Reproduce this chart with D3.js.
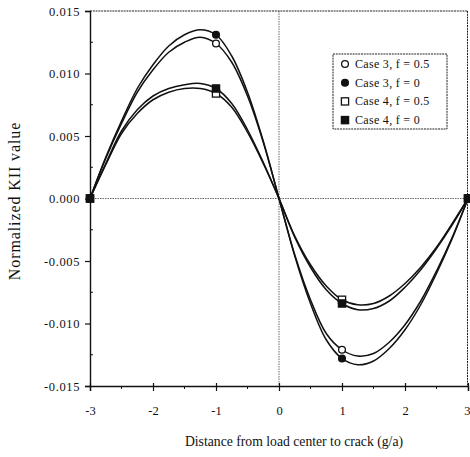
<!DOCTYPE html>
<html>
<head>
<meta charset="utf-8">
<script src="https://cdn.jsdelivr.net/npm/d3@7"></script>
<style>
  body { margin: 0; background: #fff; }
  text { font-family: "Liberation Serif", "DejaVu Serif", serif; fill: #111; }
</style>
</head>
<body>
<svg id="chart" width="470" height="457"></svg>
<script>
// distance from load center (g/a) where the curves were read
var xValues = [-3, -2.75, -2.5, -2.25, -2, -1.75, -1.5, -1.25, -1, -0.75, -0.5, -0.25, 0,
               0.25, 0.5, 0.75, 1, 1.25, 1.5, 1.75, 2, 2.25, 2.5, 2.75, 3];

var case3f05 = [0, 0.0032, 0.0060, 0.0085, 0.0103, 0.0117, 0.0125, 0.0129, 0.0124, 0.0109, 0.0082, 0.0045, 0,
                -0.0045, -0.0081, -0.0108, -0.0121, -0.0126, -0.0124, -0.0115, -0.0101, -0.0082, -0.0058, -0.0031, 0];
var case3f0 = [0, 0.0033, 0.0062, 0.0088, 0.0107, 0.0122, 0.0131, 0.0135, 0.0131, 0.0114, 0.0085, 0.0046, 0,
               -0.0046, -0.0084, -0.0113, -0.0128, -0.0133, -0.0130, -0.0120, -0.0105, -0.0085, -0.0060, -0.0032, 0];
var case4f05 = [0, 0.0027, 0.0052, 0.0068, 0.0079, 0.0085, 0.0088, 0.0088, 0.0084, 0.0073, 0.0053, 0.0028, 0,
                -0.0030, -0.0053, -0.0070, -0.0081, -0.0085, -0.0084, -0.0078, -0.0068, -0.0055, -0.0039, -0.0020, 0];
var case4f0 = [0, 0.0028, 0.0054, 0.0071, 0.0082, 0.0088, 0.0091, 0.0092, 0.0088, 0.0076, 0.0055, 0.0029, 0,
               -0.0031, -0.0055, -0.0073, -0.0084, -0.0089, -0.0088, -0.0082, -0.0071, -0.0057, -0.0040, -0.0021, 0];

// markers only sit on these x positions
var markerX = [-3, -1, 1, 3];

var seriesNames = ["Case 3, f = 0.5", "Case 3, f = 0", "Case 4, f = 0.5", "Case 4, f = 0"];
var seriesShapes = ["openCircle", "fillCircle", "openSquare", "fillSquare"];

var xTicks = [-3, -2, -1, 0, 1, 2, 3];
var xMinorTicks = [-2.5, -1.5, -0.5, 0.5, 1.5, 2.5];
var yTicks = [-0.015, -0.010, -0.005, 0, 0.005, 0.010, 0.015];
var yMinorTicks = [-0.0125, -0.0075, -0.0025, 0.0025, 0.0075, 0.0125];

var xLabel = "Distance from load center to crack (g/a)";
var yLabel = "Normalized KII value";

var plotLeft = 90, plotRight = 468, plotTop = 11, plotBottom = 386;

var svg = d3.select("#chart");

var xScale = d3.scaleLinear().domain([-3, 3]).range([plotLeft, plotRight]);
var yScale = d3.scaleLinear().domain([-0.015, 0.015]).range([plotBottom, plotTop]);

// zero lines (dotted)
svg.append("line")
    .attr("x1", plotLeft).attr("x2", plotRight)
    .attr("y1", yScale(0)).attr("y2", yScale(0))
    .attr("stroke", "#444").attr("stroke-width", 0.8)
    .attr("stroke-dasharray", "1.5,1");
svg.append("line")
    .attr("x1", xScale(0)).attr("x2", xScale(0))
    .attr("y1", plotTop).attr("y2", plotBottom)
    .attr("stroke", "#444").attr("stroke-width", 0.8)
    .attr("stroke-dasharray", "1.5,1");

// frame top / right
svg.append("line")
    .attr("x1", plotLeft).attr("x2", plotRight).attr("y1", plotTop).attr("y2", plotTop)
    .attr("stroke", "#222").attr("stroke-width", 1).attr("stroke-dasharray", "2,0.8");
svg.append("line")
    .attr("x1", plotRight - 0.5).attr("x2", plotRight - 0.5).attr("y1", plotTop).attr("y2", plotBottom)
    .attr("stroke", "#222").attr("stroke-width", 1).attr("stroke-dasharray", "2,0.8");

// left axis
var yAxis = d3.axisLeft(yScale)
    .tickValues(yTicks)
    .tickSize(5)
    .tickPadding(5)
    .tickFormat(function(d) { return d3.format(".3f")(d).replace("\u2212", "-"); });

var gy = svg.append("g")
    .attr("transform", "translate(" + plotLeft + ",0)")
    .call(yAxis)
    .attr("font-family", "Liberation Serif");
gy.select(".domain").attr("stroke", "#111").attr("stroke-width", 1.4);
gy.selectAll(".tick line").attr("stroke", "#111").attr("stroke-width", 1.2);
gy.selectAll(".tick text")
    .style("font-size", "12.5px")
    .style("letter-spacing", "0.6px");

gy.selectAll(".minor").data(yMinorTicks).enter().append("line")
    .attr("class", "minor")
    .attr("x1", 0).attr("x2", 3)
    .attr("y1", function(d) { return yScale(d); })
    .attr("y2", function(d) { return yScale(d); })
    .attr("stroke", "#111").attr("stroke-width", 1);

// bottom axis
var xAxis = d3.axisBottom(xScale)
    .tickValues(xTicks)
    .tickSize(5)
    .tickPadding(15)
    .tickFormat(function(d) { return String(d); });

var gx = svg.append("g")
    .attr("transform", "translate(0," + plotBottom + ")")
    .call(xAxis)
    .attr("font-family", "Liberation Serif");
gx.select(".domain").attr("stroke", "#111").attr("stroke-width", 1.4);
gx.selectAll(".tick line").attr("stroke", "#111").attr("stroke-width", 1.2).attr("y1", -3);
gx.selectAll(".tick text")
    .style("font-size", "12.5px");
// last label sits at the window edge, keep it inside
gx.selectAll(".tick text")
    .filter(function(d) { return d === 3; })
    .attr("text-anchor", "end")
    .attr("x", 2);

gx.selectAll(".minor").data(xMinorTicks).enter().append("line")
    .attr("class", "minor")
    .attr("x1", function(d) { return xScale(d); })
    .attr("x2", function(d) { return xScale(d); })
    .attr("y1", 0).attr("y2", 3)
    .attr("stroke", "#111").attr("stroke-width", 1);

// axis titles
svg.append("text")
    .attr("x", 294).attr("y", 446)
    .attr("text-anchor", "middle")
    .style("font-size", "13.7px")
    .text(xLabel);

svg.append("text")
    .attr("transform", "translate(20,201) rotate(-90)")
    .attr("text-anchor", "middle")
    .style("font-size", "16px")
    .style("letter-spacing", "0.9px")
    .text(yLabel);

// curves
var allSeries = [case3f05, case3f0, case4f05, case4f0];

var line = d3.line()
    .x(function(d) { return xScale(d[0]); })
    .y(function(d) { return yScale(d[1]); })
    .curve(d3.curveCatmullRom.alpha(0.5));

allSeries.forEach(function(vals) {
    var pts = xValues.map(function(x, i) { return [x, vals[i]]; });
    svg.append("path")
        .datum(pts)
        .attr("d", line)
        .attr("fill", "none")
        .attr("stroke", "#111")
        .attr("stroke-width", 1.5);
});

// markers
function drawMarker(g, shape, cx, cy) {
    if (shape === "openCircle" || shape === "fillCircle") {
        g.append("circle")
            .attr("cx", cx).attr("cy", cy).attr("r", 3.4)
            .attr("fill", shape === "fillCircle" ? "#111" : "#fff")
            .attr("stroke", "#111").attr("stroke-width", 1.3);
    } else {
        g.append("rect")
            .attr("x", cx - 3.6).attr("y", cy - 3.6)
            .attr("width", 7.2).attr("height", 7.2)
            .attr("fill", shape === "fillSquare" ? "#111" : "#fff")
            .attr("stroke", "#111").attr("stroke-width", 1.3);
    }
}

var markerLayer = svg.append("g");
allSeries.forEach(function(vals, s) {
    markerX.forEach(function(mx) {
        var i = xValues.indexOf(mx);
        drawMarker(markerLayer, seriesShapes[s], xScale(mx), yScale(vals[i]));
    });
});

// legend
var legend = svg.append("g");
legend.append("rect")
    .attr("x", 333).attr("y", 54)
    .attr("width", 114).attr("height", 75)
    .attr("fill", "#fff")
    .attr("stroke", "#222").attr("stroke-width", 1)
    .attr("stroke-dasharray", "2,0.8");

seriesNames.forEach(function(name, i) {
    var yy = 64 + i * 18.7;
    drawMarker(legend, seriesShapes[i], 345, yy);
    legend.append("text")
        .attr("x", 355).attr("y", yy + 4)
        .style("font-size", "12px")
        .style("letter-spacing", "0.3px")
        .text(name);
});
</script>
</body>
</html>
